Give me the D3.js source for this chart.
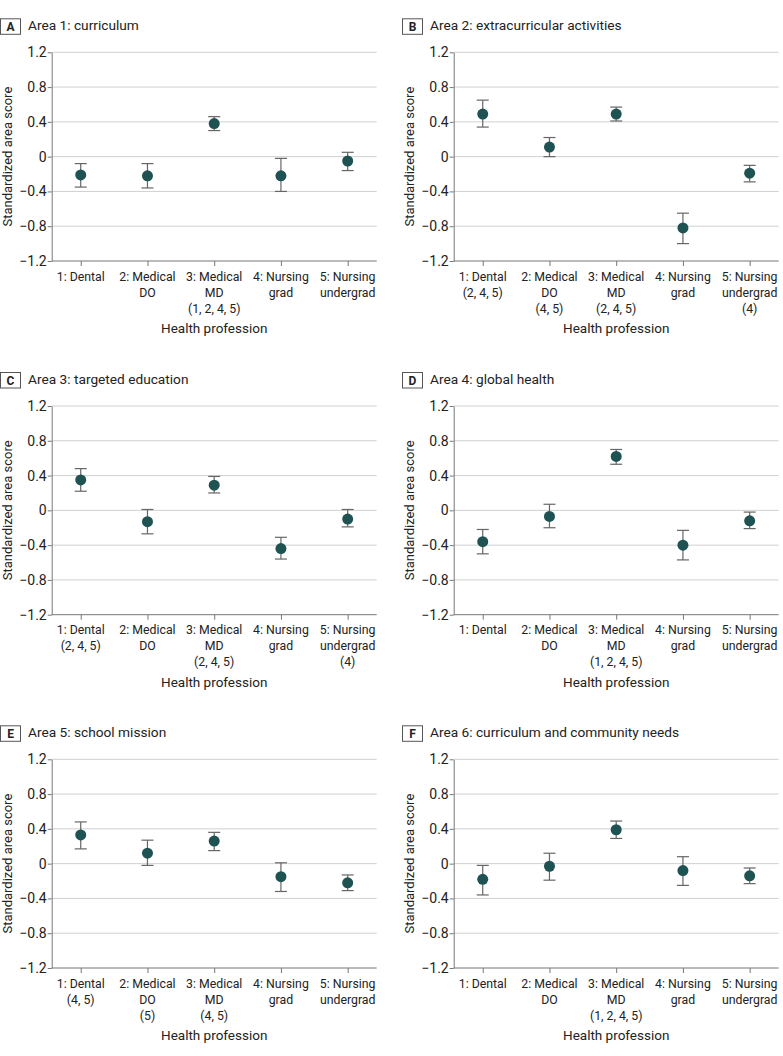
<!DOCTYPE html>
<html>
<head>
<meta charset="utf-8">
<script src="https://cdn.jsdelivr.net/npm/d3@7"></script>
<style>
  body { margin: 0; background: #fff; }
  svg text { font-family: Roboto, "Noto Sans", sans-serif; fill: #222; }
</style>
</head>
<body>
<div id="vis"></div>
<script>
// professions on the x axis
const professions = ['1: Dental', '2: Medical DO', '3: Medical MD', '4: Nursing grad', '5: Nursing undergrad'];
const tickVals = [-1.2, -0.8, -0.4, 0, 0.4, 0.8, 1.2];

const panelLetters = ['A', 'B', 'C', 'D', 'E', 'F'];
const panelTitles = ['Area 1: curriculum', 'Area 2: extracurricular activities', 'Area 3: targeted education',
  'Area 4: global health', 'Area 5: school mission', 'Area 6: curriculum and community needs'];

// point estimates
const means = [
  [-0.21, -0.22, 0.38, -0.22, -0.05],
  [0.49, 0.11, 0.49, -0.82, -0.19],
  [0.35, -0.13, 0.29, -0.44, -0.10],
  [-0.36, -0.07, 0.62, -0.40, -0.12],
  [0.33, 0.12, 0.26, -0.15, -0.22],
  [-0.18, -0.03, 0.39, -0.08, -0.14]
];
// lower CI
const lowers = [
  [-0.35, -0.36, 0.30, -0.40, -0.16],
  [0.34, 0.00, 0.41, -1.00, -0.29],
  [0.22, -0.27, 0.20, -0.56, -0.19],
  [-0.50, -0.20, 0.53, -0.57, -0.21],
  [0.17, -0.02, 0.15, -0.32, -0.31],
  [-0.36, -0.19, 0.29, -0.25, -0.23]
];
// upper CI
const uppers = [
  [-0.08, -0.08, 0.46, -0.02, 0.05],
  [0.65, 0.22, 0.57, -0.65, -0.10],
  [0.48, 0.01, 0.39, -0.31, 0.01],
  [-0.22, 0.07, 0.70, -0.23, -0.02],
  [0.48, 0.27, 0.36, 0.01, -0.13],
  [-0.02, 0.12, 0.49, 0.08, -0.05]
];
// significance notes under each tick label ('' = none)
const sigNotes = [
  ['', '', '(1, 2, 4, 5)', '', ''],
  ['(2, 4, 5)', '(4, 5)', '(2, 4, 5)', '', '(4)'],
  ['(2, 4, 5)', '', '(2, 4, 5)', '', '(4)'],
  ['', '', '(1, 2, 4, 5)', '', ''],
  ['(4, 5)', '(5)', '(4, 5)', '', ''],
  ['', '', '(1, 2, 4, 5)', '', '']
];

const W = 783, H = 1056;
const plotW = 325, plotH = 208.7;
const colX = [51.7, 453.7];
const rowY = [52.3, 406, 759.3];

const svg = d3.select('#vis').append('svg')
  .attr('width', W).attr('height', H);

const x = d3.scalePoint().domain(professions).range([0, plotW]).padding(0.435);
const y = d3.scaleLinear().domain([-1.2, 1.2]).range([plotH, 0]);

panelTitles.forEach((title, p) => {
  const g = svg.append('g')
    .attr('transform', `translate(${colX[p % 2]},${rowY[Math.floor(p / 2)]})`);

  // title with letter box
  g.append('rect')
    .attr('x', -51.2).attr('y', -33.5)
    .attr('width', 20).attr('height', 15.5)
    .attr('fill', '#fff').attr('stroke', '#555').attr('stroke-width', 1);
  g.append('text')
    .attr('x', -41.2).attr('y', -21.3)
    .attr('text-anchor', 'middle')
    .attr('font-size', 12).attr('font-weight', 'bold')
    .text(panelLetters[p]);
  g.append('text')
    .attr('x', -23.7).attr('y', -22.5)
    .attr('font-size', 13.7)
    .text(title);

  // gridlines
  g.selectAll('.grid')
    .data(tickVals.filter(d => d > -1.2))
    .join('line')
    .attr('x1', 0).attr('x2', plotW)
    .attr('y1', d => y(d)).attr('y2', d => y(d))
    .attr('stroke', '#d0d0d0').attr('stroke-width', 1);

  // y axis
  const yAxis = g.append('g')
    .call(d3.axisLeft(y).tickValues(tickVals).tickSize(4).tickSizeOuter(0)
      .tickFormat(d => d === 0 ? '0' : d3.format('.1f')(d)));
  yAxis.select('.domain').attr('stroke', '#777');
  yAxis.selectAll('.tick line').attr('stroke', '#777');
  yAxis.selectAll('.tick text').attr('font-size', 14).attr('font-family', 'Roboto, sans-serif').attr('fill', '#222').attr('x', -5);

  // x axis
  const xAxis = g.append('g')
    .attr('transform', `translate(0,${plotH})`)
    .call(d3.axisBottom(x).tickSize(5).tickSizeOuter(0).tickFormat(''));
  xAxis.select('.domain').attr('stroke', '#777').attr('d', `M0,0H${plotW}`);
  xAxis.selectAll('.tick line').attr('stroke', '#777');

  // multi-line tick labels
  professions.forEach((name, i) => {
    const parts = name.split(' ');
    const lines = [parts[0] + ' ' + parts[1]];
    if (parts.length > 2) lines.push(parts.slice(2).join(' '));
    if (sigNotes[p][i]) lines.push(sigNotes[p][i]);
    const t = g.append('text')
      .attr('text-anchor', 'middle')
      .attr('font-size', 12.3)
      .attr('transform', `translate(${x(name)},${plotH + 19.5})`);
    lines.forEach((l, k) => {
      t.append('tspan').attr('x', 0).attr('y', k * 16).text(l);
    });
  });

  // axis titles
  g.append('text')
    .attr('x', plotW / 2).attr('y', plotH + 72)
    .attr('text-anchor', 'middle').attr('font-size', 13.5)
    .text('Health profession');
  g.append('text')
    .attr('transform', `translate(-40,${plotH / 2}) rotate(-90)`)
    .attr('text-anchor', 'middle').attr('font-size', 13)
    .text('Standardized area score');

  const rows = professions.map((name, i) => ({
    name, m: means[p][i], lo: lowers[p][i], hi: uppers[p][i]
  }));

  // error bars
  const eb = g.selectAll('.eb').data(rows).join('g')
    .attr('stroke', '#666').attr('stroke-width', 1.2);
  eb.append('line')
    .attr('x1', d => x(d.name)).attr('x2', d => x(d.name))
    .attr('y1', d => y(d.lo)).attr('y2', d => y(d.hi));
  eb.append('line')
    .attr('x1', d => x(d.name) - 6).attr('x2', d => x(d.name) + 6)
    .attr('y1', d => y(d.lo)).attr('y2', d => y(d.lo));
  eb.append('line')
    .attr('x1', d => x(d.name) - 6).attr('x2', d => x(d.name) + 6)
    .attr('y1', d => y(d.hi)).attr('y2', d => y(d.hi));

  // points
  g.selectAll('.pt').data(rows).join('circle')
    .attr('cx', d => x(d.name)).attr('cy', d => y(d.m))
    .attr('r', 5.5)
    .attr('fill', '#1f5253');
});
</script>
</body>
</html>
